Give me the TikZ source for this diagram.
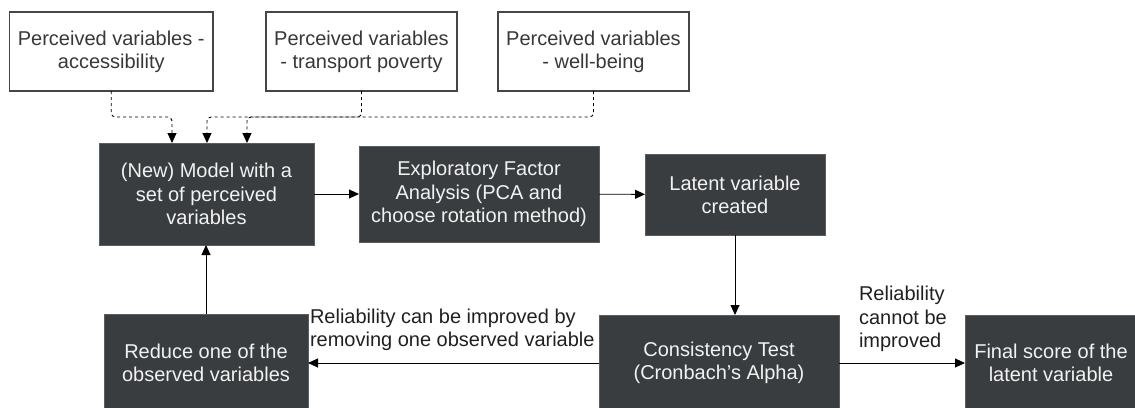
\documentclass[tikz,border=0pt]{standalone}
\usepackage{fontspec}
\setmainfont{Liberation Sans}
\usetikzlibrary{arrows.meta}
\definecolor{boxfill}{HTML}{393D40}
\definecolor{boxedge}{HTML}{5A5E61}
\definecolor{boxtext}{HTML}{F2F2F2}
\definecolor{lineedge}{HTML}{454545}
\definecolor{lighttext}{HTML}{383838}
\definecolor{labeltext}{HTML}{202020}
\begin{document}
\begin{tikzpicture}[x=1pt,y=-1pt,
  font=\fontsize{20}{23.2}\selectfont,
  every node/.style={inner sep=0pt, outer sep=0pt},
  darkbox/.style={draw=boxedge, fill=boxfill, text=boxtext, align=center, line width=1pt},
  lightbox/.style={draw=lineedge, fill=white, text=lighttext, align=center, line width=1.5pt,
    minimum width=191pt, minimum height=79pt},
  flow/.style={draw=black, line width=0.9pt, -{Triangle[length=10pt,width=9pt]}},
  dashflow/.style={flow, dash pattern=on 3pt off 3pt, rounded corners=4pt},
  edgelabel/.style={text=labeltext, align=left}
]
\useasboundingbox (0,0) rectangle (1135,407);
\clip (0,0) rectangle (1135,407);

% perceived-variable inputs
\node[lightbox, minimum width=203.5pt] (acc) at (111.25,51.5) {Perceived variables -\\accessibility};
\node[lightbox] (pov) at (361.5,51.5) {Perceived variables\\- transport poverty};
\node[lightbox] (wb)  at (593.5,51.5) {Perceived variables\\- well-being};

% main process
\node[darkbox, minimum width=215pt, minimum height=102pt] (model) at (206.5,194) {(New) Model with a\\set of perceived\\variables};
\node[darkbox, minimum width=240pt, minimum height=96pt] (efa) at (479,194) {Exploratory Factor\\Analysis (PCA and\\choose rotation method)};
\node[darkbox, minimum width=180pt, minimum height=81pt] (latent) at (735,194.5) {Latent variable\\created};
\node[darkbox, minimum width=240pt, minimum height=96pt] (alpha) at (719,363) {Consistency Test\\(Cronbach's Alpha)};
\node[darkbox, minimum width=204pt, minimum height=98pt] (reduce) at (206,363) {Reduce one of the\\observed variables};
\node[darkbox, minimum width=172pt, minimum height=96pt] (final) at (1051,363) {Final score of the\\latent variable};

% dashed feeds into the model
\coordinate (accIn) at (172,143);
\coordinate (povIn) at (207,143);
\coordinate (wbIn)  at (247,143);
\draw[dashflow] (acc.south) |- (172,117) -- (accIn);
\draw[dashflow] (pov.south) |- (207,117) -- (povIn);
\draw[dashflow] (wb.south)  |- (247,117) -- (wbIn);

% solid flow
\draw[flow] (model) -- (efa);
\draw[flow] (efa) -- (latent);
\draw[flow] (latent.south) -- (latent.south |- alpha.north);
\draw[flow] (alpha) -- (reduce);
\draw[flow] (alpha) -- (final);
\draw[flow] (reduce.north) -- (reduce.north |- model.south);

% edge labels
\node[edgelabel, anchor=west] (improve) at (310,330) {Reliability can be improved by\\removing one observed variable};
\node[edgelabel, anchor=west] (noimprove) at (859,319) {Reliability\\cannot be\\improved};
\end{tikzpicture}
\end{document}
